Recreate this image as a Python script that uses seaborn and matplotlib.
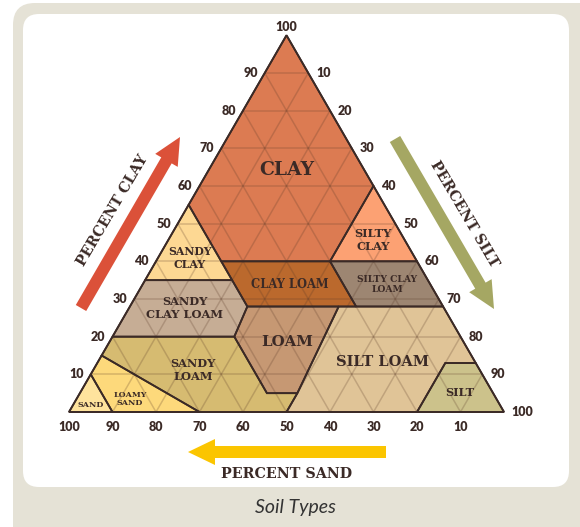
import numpy as np
import pandas as pd
import matplotlib.pyplot as plt
import seaborn as sns
from matplotlib.patches import FancyBboxPatch, FancyArrow

sns.set_theme(style="white")

# soil classes, corner points as (sand %, clay %); silt is the rest
names = ["CLAY", "SILTY\nCLAY", "SANDY\nCLAY", "CLAY LOAM", "SILTY CLAY\nLOAM",
         "SANDY\nCLAY LOAM", "LOAM", "SILT LOAM", "SILT", "SANDY\nLOAM",
         "LOAMY\nSAND", "SAND"]
clay_region = ([0, 45, 45, 20, 0], [100, 55, 40, 40, 60])
silty_clay = ([20, 0, 0], [40, 60, 40])
sandy_clay = ([45, 65, 45], [55, 35, 35])
clay_loam = ([45, 20, 20, 45], [40, 40, 28, 28])
silty_clay_loam = ([20, 0, 0, 20], [40, 40, 28, 28])
sandy_clay_loam = ([65, 45, 45, 52, 80], [35, 35, 28, 20, 20])
loam = ([45, 24, 45, 52, 52], [28, 28, 5, 5, 20])
silt_loam = ([24, 0, 0, 7, 20, 50, 45], [28, 28, 13, 13, 0, 0, 5])
silt = ([7, 0, 0, 20], [13, 13, 0, 0])
sandy_loam = ([80, 52, 52, 45, 50, 70, 85], [20, 20, 5, 5, 0, 0, 15])
loamy_sand = ([85, 70, 90, 90], [15, 0, 0, 10])
sand = ([100, 90, 90], [0, 10, 0])
regions = [clay_region, silty_clay, sandy_clay, clay_loam, silty_clay_loam,
           sandy_clay_loam, loam, silt_loam, silt, sandy_loam, loamy_sand, sand]

colors = ["#DC7B52", "#FCA173", "#FDD893", "#BB692D", "#9D8672", "#C6AD95",
          "#C69873", "#E0C497", "#CCC28B", "#D6BB71", "#FDD97B", "#FEE39D"]

ticks = [10, 20, 30, 40, 50, 60, 70, 80, 90]
sand_ticks = [100, 90, 80, 70, 60, 50, 40, 30, 20, 10]

INK = "#3b2a26"
SLAB = "DejaVu Serif"
NUMS = "Lato"
S = 4.35  # pixels per percent unit


def to_xy(sand_pct, clay_pct):
    sand_pct = np.asarray(sand_pct, float)
    clay_pct = np.asarray(clay_pct, float)
    return 100 - sand_pct - clay_pct / 2, clay_pct * np.sqrt(3) / 2


def px(x, y):
    # pixel position on the 580x527 canvas -> triangle units
    return (x - 69) / S, (412 - y) / S


fig = plt.figure(figsize=(5.8, 5.27), dpi=100)

# card background
bg = fig.add_axes([0, 0, 1, 1])
bg.set_xlim(0, 580)
bg.set_ylim(527, 0)
bg.axis("off")
bg.add_patch(FancyBboxPatch((13, 3), 620, 600, boxstyle="round,pad=0,rounding_size=22",
                            fc="#E5E2D6", ec="none"))
bg.add_patch(FancyBboxPatch((23, 14), 546, 473, boxstyle="round,pad=0,rounding_size=16",
                            fc="white", ec="none"))
bg.text(295, 507, "Soil Types", ha="center", va="center", fontsize=14,
        style="italic", family=NUMS, color="#333333")

ax = fig.add_axes([0, 0, 1, 1])
ax.patch.set_alpha(0)
ax.set_xlim(-69 / S, (580 - 69) / S)
ax.set_ylim(-(527 - 412) / S, 412 / S)
ax.axis("off")

for (sd, cl), col in zip(regions, colors):
    x, y = to_xy(sd, cl)
    ax.fill(x, y, facecolor=col, edgecolor="none", zorder=1)

# triangular grid every 10 %
rows = []
for i, v in enumerate(ticks):
    for k, (s_pts, c_pts) in enumerate([
        ([100 - v, 0], [v, v]),          # constant clay
        ([v, v], [0, 100 - v]),          # constant sand
        ([100 - v, 0], [0, 100 - v]),    # constant silt
    ]):
        x, y = to_xy(s_pts, c_pts)
        for xx, yy in zip(x, y):
            rows.append({"line": f"{i}-{k}", "x": xx, "y": yy})
grid = pd.DataFrame(rows)
sns.lineplot(data=grid, x="x", y="y", units="line", estimator=None, sort=False,
             color="#5a3a28", alpha=0.24, lw=1.1, ax=ax, zorder=2, legend=False)

for sd, cl in regions:
    x, y = to_xy(sd, cl)
    ax.fill(x, y, facecolor="none", edgecolor=INK, lw=1.3, zorder=3, joinstyle="miter")
tx, ty = to_xy([100, 0, 0], [0, 0, 100])
ax.fill(tx, ty, facecolor="none", edgecolor=INK, lw=1.3, zorder=3)

# region labels
label_px = [(287, 170), (373, 240), (190, 258), (290, 284), (387, 284.5), (185, 308),
            (287, 342), (382, 362), (460, 392), (193, 370), (130, 399), (91, 405)]
label_size = [13.5, 8.2, 7.8, 8.3, 6.6, 8.2, 10.8, 10.5, 8.2, 8.2, 5.8, 5.8]
for name, (lx, ly), fs in zip(names, label_px, label_size):
    x, y = px(lx, ly)
    ax.text(x, y, name, ha="center", va="center", fontsize=fs, family=SLAB,
            weight="bold", color=INK, linespacing=1.15, zorder=4)

# tick labels
tick_kw = dict(fontsize=9, family=NUMS, weight="heavy", color=INK)
for v in ticks:
    x, y = to_xy(100 - v, v)
    ax.text(x - 7 / S, y, str(v), ha="right", va="center", **tick_kw)
    x, y = to_xy(0, 100 - v)
    ax.text(x + 8 / S, y, str(v), ha="left", va="center", **tick_kw)
x, y = to_xy(0, 100)
ax.text(x, y + 8 / S, "100", ha="center", va="center", **tick_kw)
x, y = to_xy(0, 0)
ax.text(x + 7 / S, y, "100", ha="left", va="center", **tick_kw)
for v in sand_ticks:
    x, y = to_xy(v, 0)
    ax.text(x, y - 15 / S, str(v), ha="center", va="center", **tick_kw)

# direction arrows
def arrow(p0, p1, color):
    x0, y0 = px(*p0)
    x1, y1 = px(*p1)
    ax.add_patch(FancyArrow(x0, y0, x1 - x0, y1 - y0, width=12 / S,
                            head_width=26 / S, head_length=27 / S,
                            length_includes_head=True, color=color, lw=0))


arrow((81, 308), (180, 137), "#DB5139")
arrow((395, 139), (494, 309), "#A5A763")
arrow((386, 452), (188, 452), "#FBC500")

for txt, (lx, ly), rot in [("PERCENT CLAY", (113, 211), 59.5),
                           ("PERCENT SILT", (464, 214), -59.5),
                           ("PERCENT SAND", (287, 474), 0)]:
    x, y = px(lx, ly)
    ax.text(x, y, txt, ha="center", va="center", rotation=rot, fontsize=10.3,
            family=SLAB, weight="bold", color=INK, rotation_mode="anchor")

fig.savefig("out.png", dpi=100)
